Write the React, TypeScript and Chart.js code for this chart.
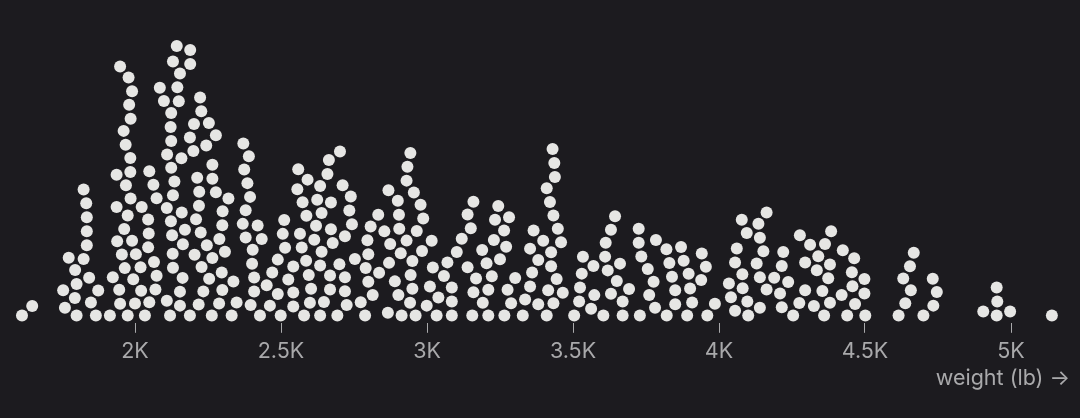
import React, { useEffect, useRef } from "react";
import { Chart, registerables } from "chart.js";

Chart.register(...registerables);

// Car weights (lb), listed roughly bottom row first
const weights: number[] = [
  1613, 1800, 1866, 1914, 1975, 2034, 2120, 2188, 2263, 2331, 2428, 2499, 2579, 2634, 2693, 2788, 2913, 2961, 3033, 3085, 3155, 3210, 3265, 3328, 3410, 3504, 3604, 3670, 3729, 3821, 3891, 3960, 4100, 4254, 4360, 4439, 4501, 4615, 4700, 4951, 5140,
  4905, 4997, 4055,
  3562, 4140, 4215, 3781, 1760, 2542, 1648, 4734, 4325, 2396, 2462, 2999, 2725, 2154,
  3850, 3986, 2218, 3381, 4466, 4638, 2049, 2288, 3288, 3433, 4380, 1949, 1849, 2599, 2647, 2773, 2942, 3521, 3908, 4275, 3191, 3670, 4097, 3085, 4953,
  2348, 2109, 3336, 1794,
  4041, 2902, 4420, 3039, 3761, 4209, 2814, 3573, 2542, 3630, 4498, 3159, 2408, 3465, 4746,
  2154, 2234, 2719, 4354, 1754, 1874, 2021, 3415, 3850, 4657, 3210, 3276, 4163, 4295, 1946, 2299, 2668, 2070, 2603, 3692, 4081, 2950, 3085,
  3901, 3524, 4951, 2451, 4457, 3353, 1800, 4034, 3010, 4237, 2890,
  3776, 2525, 2799, 3650, 3939, 2337,
  4732, 1843, 1994, 3168, 3444, 4374, 2254, 4631, 2408, 4189, 2163, 4140, 3302, 3839, 1924, 2719, 3058,
  2074, 2668, 3222, 2595, 3530, 3896, 4080, 2944,
  3360, 4455, 2489, 2866, 4335, 1795, 2297, 3756, 3619, 1965,
  3020, 3139, 2019, 2130, 2542, 3955, 2228, 2790, 3425, 3570, 2634, 4215, 4498, 4654, 2401, 3661, 4380,
  2700, 4129, 4295, 3070, 3830, 3204, 4055, 2065, 2586, 3879, 2836, 2950,
  1824, 3381, 2470, 1773, 2753, 4340, 3250, 2265, 3534, 3734,
  3610, 4463, 1955, 2204, 2003, 3941, 2129,
  2910, 3102, 3425, 2308, 2639, 4152, 4667, 4220, 2403, 2799, 2983, 3820, 3189, 4061,
  3353, 4424, 3870, 2045, 2571, 4312, 1835, 2489, 2870, 4363, 2246, 3271,
  2677, 2164, 3612, 3725, 3459, 1939, 1990, 3398,
  2614, 2930, 3016, 3119, 3784, 2289, 2434, 2379, 4140, 3229, 2719, 2796, 4277,
  2127, 2047, 2514, 2565, 4095,
  4384, 1835, 2225, 2874, 3365, 2965, 2671, 2171, 3630, 3725, 3150, 3448,
  2000, 3264, 2420, 2620, 2299, 2369, 2743,
  4135, 2807, 2123, 4078, 2905,
  2045, 2506, 2209, 2987, 2854, 1835, 1963, 3233, 3644, 2587, 3433,
  3139, 3281, 2639, 4163,
  2160, 2300, 2379, 2734, 2109,
  2023, 2833, 2904, 2511, 2978, 2219,
  1975, 1833, 3244, 2574, 3421, 3159, 2624,
  2320, 2074, 2394, 2739, 2671,
  2130, 1937, 2900, 2955,
  2277, 2220, 1824, 1985, 2556, 3410,
  2634, 2711, 2063,
  2385, 2135, 2868, 2930, 2591,
  3438, 1969, 2213, 2265,
  2659, 2049, 2374, 2559,
  2124, 2933, 1937, 1984, 2265, 3436, 2664,
  2159, 2390, 2110, 2943, 2200, 2702,
  1984, 3430, 2244, 2371,
  2124, 2188, 1968, 2277,
  2122, 2202, 2253, 1961,
  2124, 2227, 1985,
  2099, 2150, 2223, 1980, 2085, 2145,
  1990, 2154, 1978,
  2189, 2130, 1949, 2189, 2143,
];

const tickValues: number[] = [2000, 2500, 3000, 3500, 4000, 4500, 5000];
const tickLabels: string[] = ["2K", "2.5K", "3K", "3.5K", "4K", "4.5K", "5K"];
const axisTitle = "weight (lb) →";

const BG = "#1c1b1f";
const DOT = "#e6e6e4";
const TEXT = "#a9a9ab";
const FONT = "Inter, 'Noto Sans', sans-serif";

const W = 1080;
const H = 418;

// dodge (beeswarm) layout: place each dot at the lowest free spot above the baseline
function dodge(px: number[], D: number): number[] {
  const out: number[] = [];
  const PX: number[] = [];
  const PY: number[] = [];
  for (let i = 0; i < px.length; i++) {
    const x = px[i];
    const nb: number[] = [];
    for (let j = 0; j < PX.length; j++) if (Math.abs(PX[j] - x) < D) nb.push(j);
    const cands: number[] = [0];
    for (const j of nb) {
      const dx = PX[j] - x;
      const dy = Math.sqrt(D * D - dx * dx);
      cands.push(PY[j] + dy);
      if (PY[j] - dy > 0) cands.push(PY[j] - dy);
    }
    cands.sort((a, b) => a - b);
    let y = cands[cands.length - 1];
    for (const c of cands) {
      let ok = true;
      for (const j of nb) {
        const dx = PX[j] - x;
        const dy = PY[j] - c;
        if (dx * dx + dy * dy < D * D - 1e-6) {
          ok = false;
          break;
        }
      }
      if (ok) {
        y = c;
        break;
      }
    }
    PX.push(x);
    PY.push(y);
    out.push(y);
  }
  return out;
}

export default function App() {
  const ref = useRef<HTMLCanvasElement>(null);

  useEffect(() => {
    const canvas = ref.current;
    if (!canvas) return;
    const left = 0;
    const right = 1070;
    const pxPerLb = 146 / 500;
    const xMin = 2000 - (135 - left) / pxPerLb;
    const xMax = 2000 + (right - 135) / pxPerLb;

    const chart = new Chart(canvas, {
      type: "scatter",
      data: {
        datasets: [
          {
            data: weights.map((w) => ({ x: w, y: 0 })),
            backgroundColor: DOT,
            borderWidth: 0,
            pointRadius: 6,
            pointHoverRadius: 6,
            clip: false as any,
          },
        ],
      },
      options: {
        animation: false,
        responsive: false,
        events: [],
        layout: {
          autoPadding: false,
          padding: { left: left, right: W - right, top: 0, bottom: 26.6 },
        },
        plugins: { legend: { display: false }, tooltip: { enabled: false } },
        scales: {
          x: {
            type: "linear",
            min: xMin,
            max: xMax,
            afterBuildTicks: (scale: any) => {
              scale.ticks = tickValues.map((v) => ({ value: v }));
            },
            border: { display: false },
            grid: {
              drawOnChartArea: false,
              drawTicks: true,
              tickLength: 10,
              tickWidth: 1,
              tickColor: TEXT,
              color: TEXT,
            },
            ticks: {
              color: TEXT,
              font: { family: FONT, size: 21.5 },
              padding: 6,
              maxRotation: 0,
              autoSkip: false,
              callback: (v: any) => {
                const i = tickValues.indexOf(Number(v));
                return i >= 0 ? tickLabels[i] : "";
              },
            },
            title: {
              display: true,
              text: axisTitle,
              align: "end",
              color: TEXT,
              font: { family: FONT, size: 21.5 },
              padding: { top: -5, bottom: 0 },
            },
          },
          y: { display: false, min: 0, max: 1000 },
        },
      },
    } as any);

    const xs: any = chart.scales.x;
    const ys: any = chart.scales.y;
    const ppu = ys.getPixelForValue(0) - ys.getPixelForValue(1);
    const base = ys.getPixelForValue(0) - 315.5;
    const px = weights.map((w) => xs.getPixelForValue(w));
    const offs = dodge(px, 14);
    chart.data.datasets[0].data = weights.map((w, i) => ({ x: w, y: (base + offs[i]) / ppu })) as any;
    chart.update();

    return () => chart.destroy();
  }, []);

  return (
    <div style={{ position: "fixed", left: 0, top: 0, width: W, height: H, background: BG }}>
      <canvas ref={ref} width={W} height={H} style={{ display: "block", width: W, height: H }} />
    </div>
  );
}
